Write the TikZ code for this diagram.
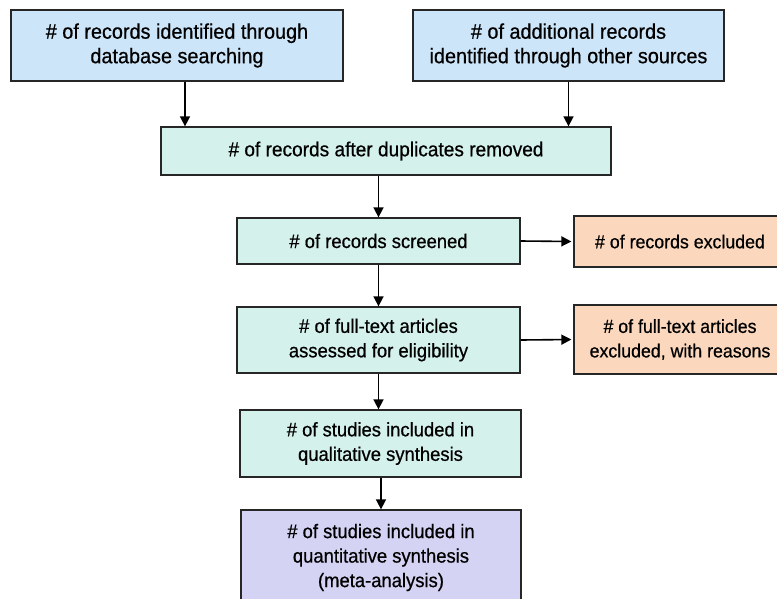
\documentclass[tikz,border=0pt]{standalone}
\usepackage{fontspec}
\setmainfont{Liberation Sans}[FakeStretch=0.94,FakeBold=0.6]
\usetikzlibrary{arrows.meta}
\definecolor{srcblue}{HTML}{CDE5F9}
\definecolor{stepteal}{HTML}{D4F1EB}
\definecolor{exclorange}{HTML}{FBD8BD}
\definecolor{metapurple}{HTML}{D5D3F3}
\begin{document}
\begin{tikzpicture}[x=1pt,y=-1pt,
    box/.style={draw=black!85,line width=1.3pt,align=center,inner sep=0pt,
      font=\fontsize{#1}{24.5}\selectfont},
    box/.default=19.6,
    flow/.style={line width=1.6pt,-{Triangle[length=10pt,width=10pt]}}]
    \clip (0,0) rectangle (777,598);
    \fill[white] (0,0) rectangle (777,598);
    \node[box=21.1,fill=srcblue,minimum width=332pt,minimum height=71pt] (a) at (177,45.5) {\# of records identified through\\database searching};
    \node[box=21.1,fill=srcblue,minimum width=311pt,minimum height=71pt] (b) at (568.5,45.5) {\# of additional records\\identified through other sources};
    \node[box=20.3,fill=stepteal,minimum width=450pt,minimum height=48pt] (c) at (386,151) {\# of records after duplicates removed};
    \node[box,fill=stepteal,minimum width=283pt,minimum height=46pt] (d) at (378.5,241) {\# of records screened};
    \node[box=18.9,fill=exclorange,minimum width=212pt,minimum height=51pt] (e) at (680,241.5) {\# of records excluded};
    \node[box,fill=stepteal,minimum width=283pt,minimum height=66pt] (f) at (378.5,340) {\# of full-text articles\\assessed for eligibility};
    \node[box=18.9,fill=exclorange,minimum width=212pt,minimum height=69pt] (g) at (680,339.5) {\# of full-text articles\\excluded, with reasons};
    \node[box,fill=stepteal,minimum width=281pt,minimum height=67pt] (h) at (380.5,443.5) {\# of studies included in\\qualitative synthesis};
    \node[box,fill=metapurple,minimum width=280pt,minimum height=95pt] (i) at (381,557.5) {\# of studies included in\\quantitative synthesis\\(meta-analysis)};
    \draw[flow] ([xshift=8pt]a.south) -- ([xshift=8pt]a.south |- c.north);
    \draw[flow] (b.south) -- (b.south |- c.north);
    \draw[flow] (d.north |- c.south) -- (d.north);
    \draw[flow] (d) -- (f);
    \draw[flow] (f.south) -- (f.south |- h.north);
    \draw[flow] (h.south -| i.north) -- (i.north);
    \draw[flow,shorten >=2pt] (d.east) -- (e.west);
    \draw[flow,shorten >=2pt] (f.east) -- (g.west);
\end{tikzpicture}
\end{document}
